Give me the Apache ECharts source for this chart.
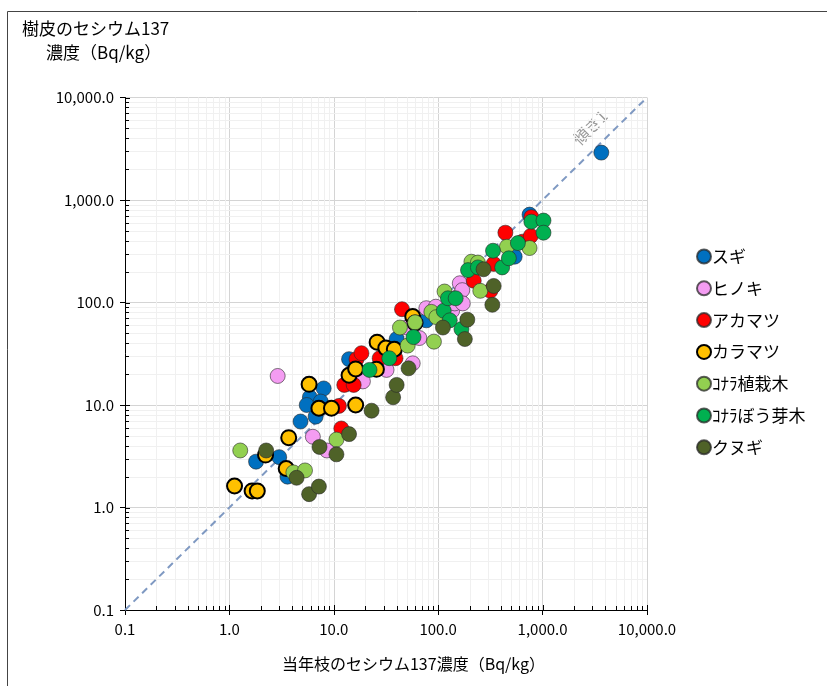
<!DOCTYPE html>
<html><head><meta charset="utf-8">
<script src="https://cdn.jsdelivr.net/npm/echarts@6/dist/echarts.min.js"></script>
<style>html,body{margin:0;padding:0;background:#fff}#c{width:827px;height:686px}</style>
</head><body><div id="c"></div>
<script>
// ---- data (x: 当年枝, y: 樹皮; Bq/kg) ----
const seriesNames = ['スギ','ヒノキ','アカマツ','カラマツ','ｺﾅﾗ植栽木','ｺﾅﾗぼう芽木','クヌギ'];
const sugi = [[3650,2900],[750,720],[540,280],[77,67],[40,44],[14,28],[1.8,2.8],[3.0,3.1],[3.6,2.0],[4.8,6.9],[8.0,14.5],[5.9,11.9],[5.5,10.0],[7.5,10.8],[6.7,7.7]];
const hinoki = [[2.9,19.2],[6.3,4.9],[8.6,3.6],[19,17],[32,22],[57,25.5],[66,45],[50,57],[77,88],[95,91],[136,83],[144,98],[158,116],[161,154],[170,132],[172,98]];
const akamatsu = [[11.8,5.9],[11.2,9.8],[12.6,15.7],[15.5,15.7],[16.5,28],[18.4,32],[27.5,28.6],[39,28.6],[45,86],[219,163],[316,130],[340,238],[440,480],[640,392],[780,680],[770,446]];
const karamatsu = [[1.12,1.62],[1.65,1.45],[1.85,1.45],[2.22,3.25],[3.5,2.4],[3.7,4.8],[5.8,15.9],[7.2,9.3],[9.5,9.3],[16.2,10.0],[14,19.5],[16.2,22.5],[25.6,22.3],[26,41],[31.5,36],[38,35],[57,73],[60,63]];
const konaraPlanted = [[1.27,3.6],[4.1,2.2],[5.3,2.3],[10.6,4.6],[43,57],[51,38],[60,64],[86,81],[91,41.5],[96,72],[115,128],[208,250],[240,245],[253,130],[455,350],[750,340]];
const konaraCoppice = [[22,22],[34,28.6],[58,46],[113,83],[124,110],[129,67],[147,110],[167,55],[193,207],[240,220],[335,320],[410,220],[475,270],[580,380],[780,615],[1020,630],[1020,480]];
const kunugi = [[2.25,3.6],[4.4,1.95],[5.8,1.35],[7.2,1.6],[7.3,3.9],[10.6,3.3],[14,5.2],[23,8.8],[37,11.9],[40,15.7],[52,22.8],[111,57],[190,68],[180,44],[272,211],[340,145],[330,95]];
const slopeLine = [0.1, 10000];
const axisMin = 0.1, axisMax = 10000;
const majorTicks = [0.1, 1, 10, 100, 1000, 10000];
const minorTicks = [0.2,0.3,0.4,0.5,0.6,0.7,0.8,0.9,2,3,4,5,6,7,8,9,20,30,40,50,60,70,80,90,200,300,400,500,600,700,800,900,2000,3000,4000,5000,6000,7000,8000,9000];
const slopeLabel = '傾き1';
const slopeLabelAt = 3800;

const colors = ['#0070C0','#F49CF2','#FF0000','#FFC000','#92D050','#00B050','#4F6228'];
const allData = [sugi, hinoki, akamatsu, karamatsu, konaraPlanted, konaraCoppice, kunugi];
const FONT = "'Noto Sans CJK JP', sans-serif";

function fmt(v){
  const s = Number(v).toFixed(1);
  const parts = s.split('.');
  parts[0] = parts[0].replace(/\B(?=(\d{3})+(?!\d))/g, ',');
  return parts.join('.');
}

const chart = echarts.init(document.getElementById('c'), null, {renderer:'canvas'});

const scatterSeries = seriesNames.map((n,i)=>({
  name:n, type:'scatter', data: allData[i], symbol:'circle', symbolSize: 15, z: 5 + i,
  itemStyle: i===3 ? {color: colors[i], borderColor:'#000', borderWidth:2, opacity:1}
                   : {color: colors[i], borderColor:'rgba(40,40,40,0.75)', borderWidth:0.8, opacity:1}
}));

function crisp(v){ return Math.round(v) + 0.5; }

function staticGraphics(extra){
  return [
    {type:'rect', silent:true, shape:{x:7.5, y:11.5, width:900, height:900}, style:{fill:'none', stroke:'#444', lineWidth:1}},
    {type:'text', left:22, top:20, style:{text:'樹皮のセシウム137', font:"17px 'Noto Sans CJK JP'", fill:'#000'}},
    {type:'text', left:46, top:44, style:{text:'濃度（Bq/kg）', font:"17px 'Noto Sans CJK JP'", fill:'#000'}},
    {type:'text', left:'center', top:656, style:{text:'当年枝のセシウム137濃度（Bq/kg）', font:"16px 'Noto Sans CJK JP'", fill:'#000'}}
  ].concat(extra || []);
}

const option = {
  animation:false,
  textStyle:{fontFamily: FONT},
  grid:{left:125, right:180, top:97.5, bottom:76, containLabel:false},
  xAxis:{type:'log', logBase:10, min:axisMin, max:axisMax,
    axisLine:{show:true, lineStyle:{color:'#000', width:1}},
    axisTick:{show:true, inside:false, length:5, lineStyle:{color:'#000'}},
    axisLabel:{color:'#000', fontSize:15, margin:12, formatter: fmt, fontFamily: FONT},
    splitLine:{show:true, lineStyle:{color:'#D4D4D4', width:1}}},
  yAxis:{type:'log', logBase:10, min:axisMin, max:axisMax,
    axisLine:{show:true, lineStyle:{color:'#000', width:1}},
    axisTick:{show:true, inside:false, length:5, lineStyle:{color:'#000'}},
    axisLabel:{color:'#000', fontSize:15, margin:11, formatter: fmt, fontFamily: FONT},
    splitLine:{show:true, lineStyle:{color:'#D4D4D4', width:1}}},
  legend:{orient:'vertical', left:691, top:243, itemGap:14.8, itemWidth:14, itemHeight:14,
    icon:'circle', data: seriesNames,
    textStyle:{fontSize:17, color:'#000', fontFamily: FONT, padding:[0,0,0,-4]}},
  graphic: staticGraphics(),
  series:[
    {type:'custom', silent:true, z:1, coordinateSystem:'cartesian2d', data:[[axisMin, axisMin]],
      renderItem:function(params, api){
        const ch = [];
        const b = api.coord([axisMin, axisMin]);
        const t = api.coord([axisMax, axisMax]);
        minorTicks.forEach(v=>{
          const px = crisp(api.coord([v, axisMin])[0]);
          ch.push({type:'line', shape:{x1:px, y1:b[1], x2:px, y2:t[1]}, style:{stroke:'#F0F0F0', lineWidth:1}});
          const py = crisp(api.coord([axisMin, v])[1]);
          ch.push({type:'line', shape:{x1:b[0], y1:py, x2:t[0], y2:py}, style:{stroke:'#F0F0F0', lineWidth:1}});
        });
        minorTicks.forEach(v=>{
          const px = crisp(api.coord([v, axisMin])[0]);
          ch.push({type:'line', shape:{x1:px, y1:b[1], x2:px, y2:b[1]-4}, style:{stroke:'#000', lineWidth:1}});
          const py = crisp(api.coord([axisMin, v])[1]);
          ch.push({type:'line', shape:{x1:b[0], y1:py, x2:b[0]+4, y2:py}, style:{stroke:'#000', lineWidth:1}});
        });
        majorTicks.forEach(v=>{
          const px = crisp(api.coord([v, axisMin])[0]);
          ch.push({type:'line', shape:{x1:px, y1:b[1], x2:px, y2:b[1]-5}, style:{stroke:'#000', lineWidth:1}});
          const py = crisp(api.coord([axisMin, v])[1]);
          ch.push({type:'line', shape:{x1:b[0], y1:py, x2:b[0]+5, y2:py}, style:{stroke:'#000', lineWidth:1}});
        });
        return {type:'group', children: ch};
      }},
    {type:'line', silent:true, z:3, symbol:'none', data: slopeLine.map(v=>[v,v]),
      lineStyle:{color:'#7F99C2', width:2, type:[7,5]}},
    ...scatterSeries
  ]
};
chart.setOption(option);

const p = chart.convertToPixel({gridIndex:0}, [slopeLabelAt, slopeLabelAt]);
chart.setOption({graphic: staticGraphics([
  {type:'text', x: p[0]-13, y: p[1]-13, rotation: Math.PI/4, silent:true,
    style:{text: slopeLabel, font:"16px 'Noto Sans CJK JP'", fill:'#999', align:'center', verticalAlign:'middle'}}
])});
</script></body></html>
